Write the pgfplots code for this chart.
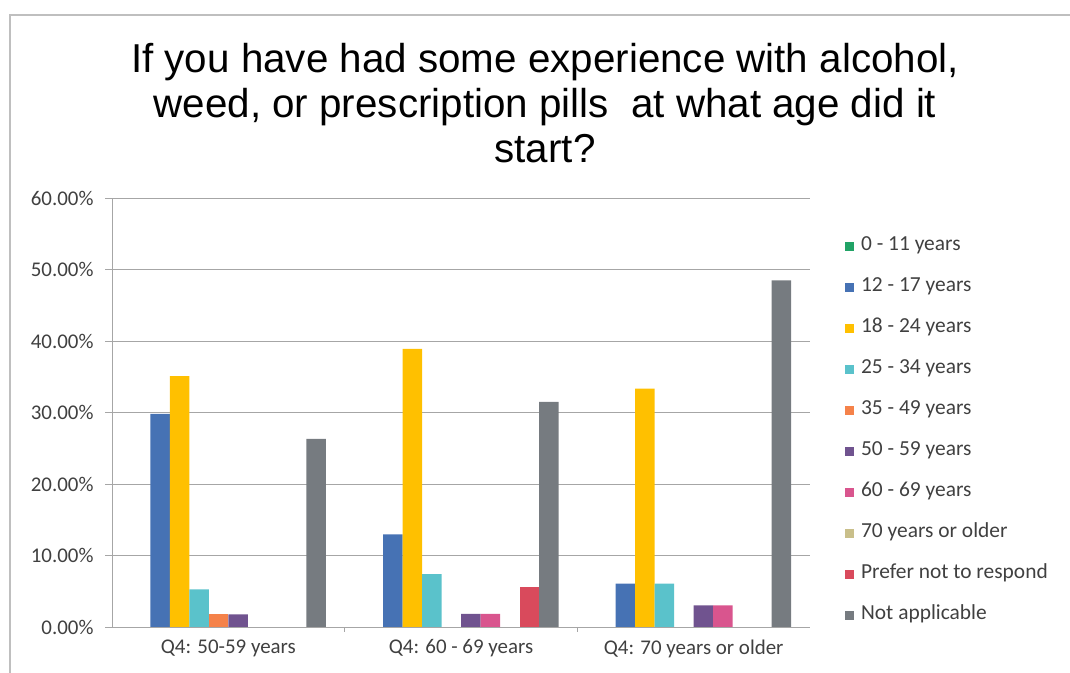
\documentclass[border=0pt]{standalone}
\usepackage{pgfplots}
\pgfplotsset{compat=1.18}
\usepackage{fontspec}
\setmainfont{Carlito}
\newfontfamily\titlefont{Liberation Sans}

\definecolor{cA}{HTML}{21A366}
\definecolor{cB}{HTML}{4672B4}
\definecolor{cC}{HTML}{FFC000}
\definecolor{cD}{HTML}{5AC2CB}
\definecolor{cE}{HTML}{F5824A}
\definecolor{cF}{HTML}{70538F}
\definecolor{cG}{HTML}{D9558E}
\definecolor{cH}{HTML}{C9BF8A}
\definecolor{cI}{HTML}{D94A5C}
\definecolor{cJ}{HTML}{767B80}
\definecolor{txt}{HTML}{404040}
\definecolor{gridc}{HTML}{A6A6A6}

\begin{document}
\begin{tikzpicture}[x=1bp,y=1bp]
\useasboundingbox (0,0) rectangle (1070,673);
% chart frame (top and left edges)
\draw[color=black!25, line width=1.5bp] (10,-5) -- (10,658) -- (1080,658);
% title
\node[align=center, font=\titlefont\fontsize{40.5}{45}\selectfont] at (545,570)
  {If you have had some experience with alcohol,\\weed, or prescription pills\ \ at what age did it\\start?};
\begin{axis}[
  at={(112bp,46bp)}, anchor=south west,
  width=698bp, height=429bp, scale only axis,
  ybar=0pt, bar width=19.5bp,
  xmin=-0.5, xmax=2.5,
  ymin=0, ymax=60,
  ytick={0,10,...,60},
  yticklabel={\pgfmathprintnumber[fixed,fixed zerofill,precision=2]{\tick}\%},
  /pgf/number format/assume math mode=true,
  ymajorgrids, grid style={gridc, line width=0.9bp},
  axis x line=bottom, axis y line=left,
  axis line style={-, gridc, line width=0.9bp},
  y tick style={gridc, line width=0.9bp},
  tick align=outside, major tick length=7bp,
  xtick={0,1,2},
  xticklabels={Q4: 50-59 years, Q4: 60 - 69 years, Q4: 70 years or older},
  x tick style={draw=none},
  extra x ticks={0.5,1.5},
  extra x tick labels={},
  extra x tick style={major tick length=5bp, x tick style={draw=gridc, line width=0.9bp}, grid=none},
  ticklabel style={font=\fontsize{21}{24}\selectfont, text=txt},
  yticklabel style={xshift=-8bp},
  xticklabel style={yshift=-2bp},
  legend style={at={(1.050,0.91)}, anchor=north west, draw=none, fill=none,
    inner sep=0pt, column sep=7bp,
    font=\fontsize{21.5}{24}\selectfont, text=txt, row sep=22bp,
    nodes={inner sep=0pt, text height=14bp, text depth=5bp}},
  legend cell align=left,
  legend image code/.code={\fill[#1] (0bp,-4.5bp) rectangle (9bp,4.5bp);},
  every axis plot/.append style={draw=none},
]
% series with no responses keep their slot and legend entry but draw no bar
\addplot[fill=cA, fill opacity=0, legend image post style={fill opacity=1}] coordinates {(0,0) (1,0) (2,0)};
\addplot[fill=cB] coordinates {(0,29.82) (1,12.96) (2,6.06)};
\addplot[fill=cC] coordinates {(0,35.09) (1,38.89) (2,33.33)};
\addplot[fill=cD] coordinates {(0,5.26) (1,7.41) (2,6.06)};
\addplot[fill=cE] coordinates {(0,1.75)};
\addplot[fill=cF] coordinates {(0,1.75) (1,1.85) (2,3.03)};
\addplot[fill=cG] coordinates {(1,1.85) (2,3.03)};
\addplot[fill=cH, fill opacity=0, legend image post style={fill opacity=1}] coordinates {(0,0) (1,0) (2,0)};
\addplot[fill=cI] coordinates {(1,5.56)};
\addplot[fill=cJ] coordinates {(0,26.32) (1,31.48) (2,48.48)};
\legend{0 - 11 years, 12 - 17 years, 18 - 24 years, 25 - 34 years, 35 - 49 years,
  50 - 59 years, 60 - 69 years, 70 years or older, Prefer not to respond, Not applicable}
\end{axis}
\end{tikzpicture}
\end{document}
